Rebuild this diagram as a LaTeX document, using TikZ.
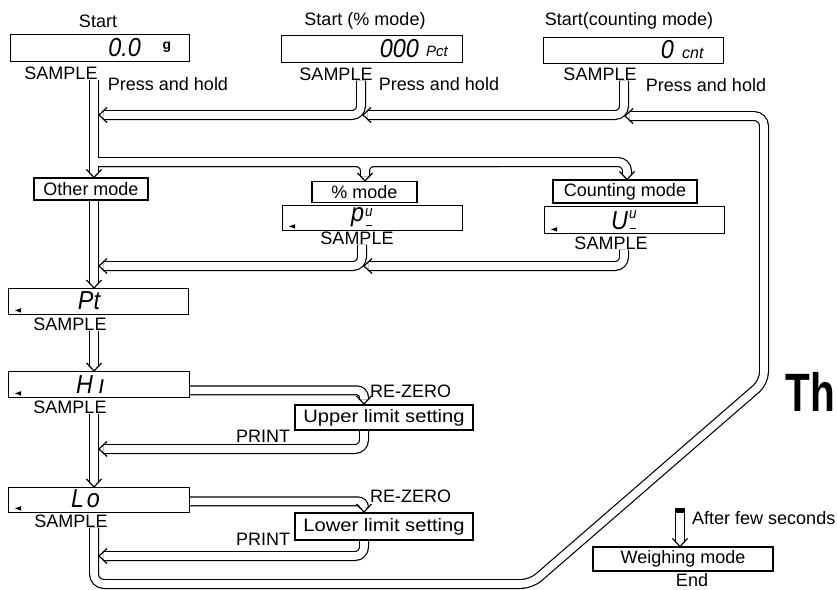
\documentclass[tikz,border=0pt]{standalone}
\usepackage{fontspec}
\usepackage{graphicx}
\setmainfont{Liberation Sans}
\usetikzlibrary{calc,backgrounds}
\newcommand\segt[1]{\scalebox{0.9}[1]{\fontsize{26}{26}\selectfont\itshape #1}}
\newcommand\segs{\fontsize{15}{15}\selectfont\itshape}
\newcommand\chevL[1]{\draw[chev] ($(#1)+(8,-7.5)$) -- (#1) -- ($(#1)+(8,7.5)$);}
\newcommand\chevD[1]{\draw[chev] ($(#1)+(-7.5,-8)$) -- (#1) -- ($(#1)+(7.5,-8)$);}
\newcommand\mkr[1]{\fill ($(#1.south west)+(7,-5)$) -- ++(6,-2.2) -- ++(0,4.4) -- cycle;}
\newcommand\pipepaths{%
 \draw[pp] (col |- s1.south) -- ($(a1)+(0,-4.7)$);
 \draw[pp,rounded corners=9pt] (c2 |- s2.south) |- ($(t2)+(4.7,0)$);
 \draw[pp,rounded corners=9pt] (c3 |- s3.south) |- ($(t3)+(4.7,0)$);
 \draw[pp,rounded corners=10pt] (col |- s8.south) -- (l1) -- (l2) -- (l3) -- (l4) -- ($(t4)+(4.7,0)$);
 \draw[pp,rounded corners=9pt] (br) -| ($(a5)+(0,-4.7)$);
 \draw[pp,rounded corners=9pt] (br) -| ($(a6)+(0,-4.7)$);
 \draw[pp,rounded corners=9pt] (brc) -| ($(a6)+(0,-4.7)$);
 \draw[pp] (col |- other.south) -- ($(a8)+(0,-4.7)$);
 \draw[pp,rounded corners=9pt] (c4 |- s4.south) |- ($(t9)+(4.7,0)$);
 \draw[pp,rounded corners=9pt] (c3 |- s5.south) |- ($(t10)+(4.7,0)$);
 \draw[pp] (col |- s6.south) -- ($(a11)+(0,-4.7)$);
 \draw[pp,rounded corners=7pt] (ho) -| ($(a12)+(0,-4.7)$);
 \draw[pp,rounded corners=9pt] (cs |- up.center) |- ($(t13)+(4.7,0)$);
 \draw[pp] (col |- s7.south) -- ($(a14)+(0,-4.7)$);
 \draw[pp,rounded corners=6pt] (lho) -| ($(a15)+(0,-4.7)$);
 \draw[pp,rounded corners=9pt] (cs |- lw.center) |- ($(t16)+(4.7,0)$);
 \draw[pp] (wtop) -- ($(a18)+(0,-4.7)$);
}
\begin{document}
\begin{tikzpicture}[x=1pt,y=-1pt,
  every node/.style={font=\fontsize{18}{20}\selectfont, inner sep=0pt},
  disp/.style={draw, line width=1.4pt, anchor=north west, fill=white},
  mbox/.style={draw, line width=1.1pt, fill=white},
  tbox/.style={draw, line width=2pt, fill=white},
  chev/.style={line width=1.2pt, line join=miter}]
\useasboundingbox (0,0) rectangle (837,589);

% ---------- top row ----------
\node (start1) at (98,21) {Start};
\node[disp, minimum width=179pt, minimum height=27pt] (d1) at (10,34) {};
\node[anchor=east] (d1v) at (141,48) {\segt{0.0}};
\node (d1u) at (167,47) {\fontsize{14}{14}\selectfont\bfseries g};
\node (s1) at (61,73) {SAMPLE};
\node (ph1) at (168,84) {Press and hold};

\node (start2) at (365,21) {Start (\% mode)};
\node[disp, minimum width=181pt, minimum height=27pt] (d2) at (281,35) {};
\node[anchor=east] (d2v) at (419,48.5) {\segt{000}};
\node[anchor=west] (d2u) at (426,51) {\fontsize{15}{15}\selectfont\itshape Pct};
\node (s2) at (336,74) {SAMPLE};
\node (ph2) at (439,84) {Press and hold};

\node (start3) at (629,21) {Start(counting mode)};
\node[disp, minimum width=180pt, minimum height=26pt] (d3) at (543,37) {};
\node[anchor=east] (d3v) at (674,50) {\segt{0}};
\node[anchor=west] (d3u) at (682,53) {\fontsize{16}{16}\selectfont\itshape cnt};
\node (s3) at (600,74) {SAMPLE};
\node (ph3) at (706,85) {Press and hold};

% ---------- mode selection ----------
\node[mbox, minimum width=114pt, minimum height=22pt] (other) at (91,189) {Other mode};
\node[mbox, minimum width=105pt, minimum height=21pt] (pct) at (364.5,192) {\% mode};
\node[disp, minimum width=180pt, minimum height=25pt] (pud) at (282,205) {};
\node[anchor=base west] (pudv) at (351,221) {\segt{p\kern1pt\raisebox{4.5pt}{\segs u}\kern-7pt\rule[-5pt]{6pt}{1.1pt}}};
\node (s4) at (357,238) {SAMPLE};
\node[mbox, minimum width=144pt, minimum height=23pt] (cnt) at (625,191.5) {Counting mode};
\node[disp, minimum width=180pt, minimum height=27pt] (uud) at (544,206) {};
\node[anchor=base west] (uudv) at (611,229) {\segt{U\kern1pt\raisebox{11pt}{\segs u}\kern-7pt\rule{6pt}{1.1pt}}};
\node (s5) at (611,243) {SAMPLE};

% ---------- left column ----------
\node[disp, minimum width=180pt, minimum height=26pt] (pt) at (8,288) {};
\node (ptv) at (89,301) {\segt{Pt}};
\node (s6) at (70,324) {SAMPLE};

\node[disp, minimum width=181pt, minimum height=26pt] (hi) at (8,371) {};
\node[anchor=base west] (hiv) at (76,393) {\segt{H\kern6pt ı}};
\node (s7) at (70,407) {SAMPLE};
\node[anchor=west] (rz1) at (370,391) {RE-ZERO};
\node[tbox, minimum width=178pt, minimum height=25pt] (up) at (384,417.5) {\scalebox{1.12}[1]{Upper limit setting}};
\node (pr1) at (263,436) {PRINT};

\node[disp, minimum width=181pt, minimum height=25pt] (lo) at (8,487) {};
\node[anchor=base west] (lov) at (71,507) {\segt{L\kern3pt o}};
\node (s8) at (71,521) {SAMPLE};
\node[anchor=west] (rz2) at (370,496) {RE-ZERO};
\node[tbox, minimum width=178pt, minimum height=27pt] (lw) at (384,526.5) {\scalebox{1.12}[1]{Lower limit setting}};
\node (pr2) at (263,539) {PRINT};

% ---------- end ----------
\node[mbox, minimum width=180pt, minimum height=24pt] (wm) at (683,559) {Weighing mode};
\node[anchor=west] (afs) at (692,518) {After few seconds};
\node (endt) at (692,580) {End};
\node (th) at (810,392) {\scalebox{0.75}[1]{\fontsize{54}{54}\selectfont\bfseries Th}};

\mkr{pt} \mkr{hi} \mkr{lo} \mkr{pud} \mkr{uud}

% ---------- coordinates ----------
\coordinate (col) at (94,0);
\coordinate (c2) at (361,0);
\coordinate (c3) at (624,0);
\coordinate (c4) at (362,0);
\coordinate (cb) at (627,0);
\coordinate (cp) at (365,0);
\coordinate (cs) at (364,0);
\coordinate (cw) at (680,0);
\coordinate (t2) at (99,115);
\coordinate (t3) at (363,115);
\coordinate (t4) at (625,116);
\coordinate (t9) at (99,266);
\coordinate (t10) at (364,266);
\coordinate (t13) at (99,449);
\coordinate (t16) at (99,556);
\coordinate (br) at (94,162);
\coordinate (brc) at (500,162);
\coordinate (l1) at (94,584);
\coordinate (l2) at (531,584);
\coordinate (l3) at (764,382);
\coordinate (l4) at (764,116);
\coordinate (ho) at ($(hi.south east)+(-4,-8)$);
\coordinate (lho) at ($(lo.south east)+(-4,-12)$);
\coordinate (wtop) at (680,508);
\coordinate (a1) at (col |- other.north);
\coordinate (a5) at (cb |- cnt.north);
\coordinate (a6) at (cp |- pct.north);
\coordinate (a8) at (col |- pt.north);
\coordinate (a11) at (col |- hi.north);
\coordinate (a12) at (cs |- up.north);
\coordinate (a14) at (col |- lo.north);
\coordinate (a15) at (cs |- lw.north);
\coordinate (a18) at (cw |- wm.north);

% ---------- pipes ----------
\begin{scope}[on background layer, pp/.style={draw=black, line width=10pt}]
\pipepaths
\end{scope}
\begin{scope}[on background layer, pp/.style={draw=white, line width=7.6pt}]
\pipepaths
\end{scope}
\begin{scope}[on background layer]
\chevD{a1} \chevL{t2} \chevL{t3} \chevL{t4} \chevD{a5} \chevD{a6} \chevD{a8}
\chevL{t9} \chevL{t10} \chevD{a11} \chevD{a12} \chevL{t13} \chevD{a14}
\chevD{a15} \chevL{t16} \chevD{a18}
\fill ($(wtop)+(-5,0)$) rectangle ($(wtop)+(5,5)$);
\end{scope}
\end{tikzpicture}
\end{document}
